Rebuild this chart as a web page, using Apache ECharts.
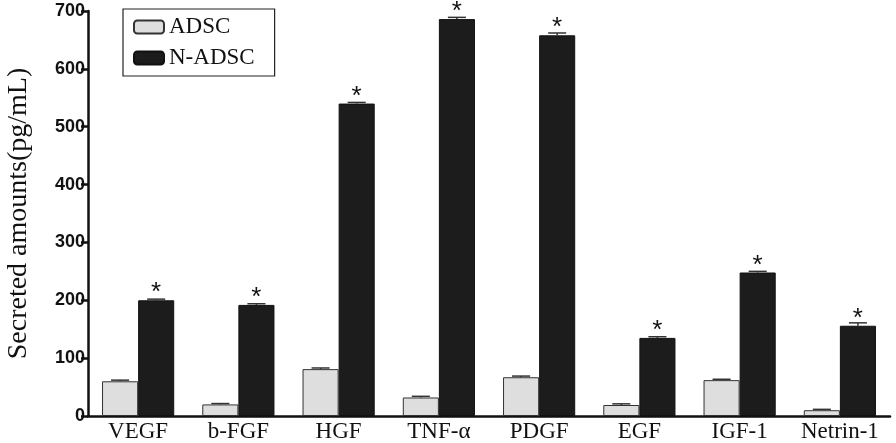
<!DOCTYPE html>
<html><head><meta charset="utf-8">
<script src="https://cdn.jsdelivr.net/npm/echarts@6/dist/echarts.min.js"></script>
<style>html,body{margin:0;padding:0;background:#fff}#c{width:896px;height:443px}</style>
</head><body><div id="c"></div>
<script>
var categories = ['VEGF','b-FGF','HGF','TNF-\u03b1','PDGF','EGF','IGF-1','Netrin-1'];
var adsc = [60, 20, 81, 32, 67, 19, 62, 10];
var adscErr = [2, 1.5, 2, 2, 2, 2, 1.5, 1.5];
var nadsc = [200, 192, 540, 686, 658, 135, 248, 156];
var nadscErr = [2, 2, 2, 3, 4, 2, 2, 5];
var yTicks = [0,100,200,300,400,500,600,700];

var chart = echarts.init(document.getElementById('c'));
var BARFRAC = 0.36;
function errSeries(vals, errs, side) {
  return {
    type: 'custom', z: 5, silent: true,
    data: vals.map(function(v,i){ return [i, v, errs[i]]; }),
    renderItem: function(params, api) {
      var i = api.value(0), v = api.value(1), e = api.value(2);
      var band = api.size([1,0])[0];
      var bw = band * BARFRAC;
      var p0 = api.coord([i, v]);
      var p1 = api.coord([i, v + e]);
      var x = p0[0] + side * bw/2;
      var hw = bw * 0.25;
      return {type:'group', children:[
        {type:'line', shape:{x1:x,y1:p0[1],x2:x,y2:p1[1]}, style:{stroke:'#333',lineWidth:1.5}},
        {type:'line', shape:{x1:x-hw,y1:p1[1],x2:x+hw,y2:p1[1]}, style:{stroke:'#333',lineWidth:1.5}}
      ]};
    }
  };
}
chart.setOption({
  animation: false,
  grid: {left: 88, right: 6, top: 11, bottom: 27, outerBoundsMode: 'none'},
  legend: {
    orient: 'vertical', left: 123, top: 9, padding: [6, 20, 6, 10],
    borderColor: '#222', borderWidth: 1.2,
    itemWidth: 30, itemHeight: 13, itemGap: 7,
    textStyle: {fontFamily: 'Liberation Serif', fontSize: 23, lineHeight: 24, color: '#111'},
    data: ['ADSC','N-ADSC']
  },
  xAxis: {
    type: 'category', data: categories,
    axisLine: {lineStyle: {color: '#111', width: 2.5}},
    axisTick: {show: false},
    axisLabel: {interval: 0, hideOverlap: false, fontFamily: 'Liberation Serif', fontSize: 23, color: '#111', margin: 4}
  },
  yAxis: {
    type: 'value', min: 0, max: 700, interval: 100,
    name: 'Secreted amounts(pg/mL)', nameLocation: 'middle', nameGap: 55,
    nameTextStyle: {fontFamily: 'Liberation Serif', fontSize: 28, color: '#111'},
    axisLine: {show: true, lineStyle: {color: '#111', width: 2.5}},
    axisTick: {show: true, length: 7, lineStyle: {color: '#111', width: 2.5}},
    splitLine: {show: false},
    axisLabel: {fontFamily: 'Liberation Sans', fontWeight: 'bold', fontSize: 18, color: '#111', margin: 3,
      formatter: function(v){ return yTicks.indexOf(v) >= 0 ? String(v) : ''; }}
  },
  series: [
    {name: 'ADSC', type: 'bar', data: adsc, barGap: '0%', barCategoryGap: '28%',
     itemStyle: {color: '#dedede', borderColor: '#333', borderWidth: 1}},
    {name: 'N-ADSC', type: 'bar', data: nadsc,
     itemStyle: {color: '#1c1c1c', borderColor: '#111', borderWidth: 1},
     label: {show: true, position: 'top', distance: -6, formatter: '*',
       fontFamily: 'Liberation Sans', fontSize: 26, color: '#111'}},
    errSeries(adsc, adscErr, -1),
    errSeries(nadsc, nadscErr, 1)
  ]
});
</script></body></html>
